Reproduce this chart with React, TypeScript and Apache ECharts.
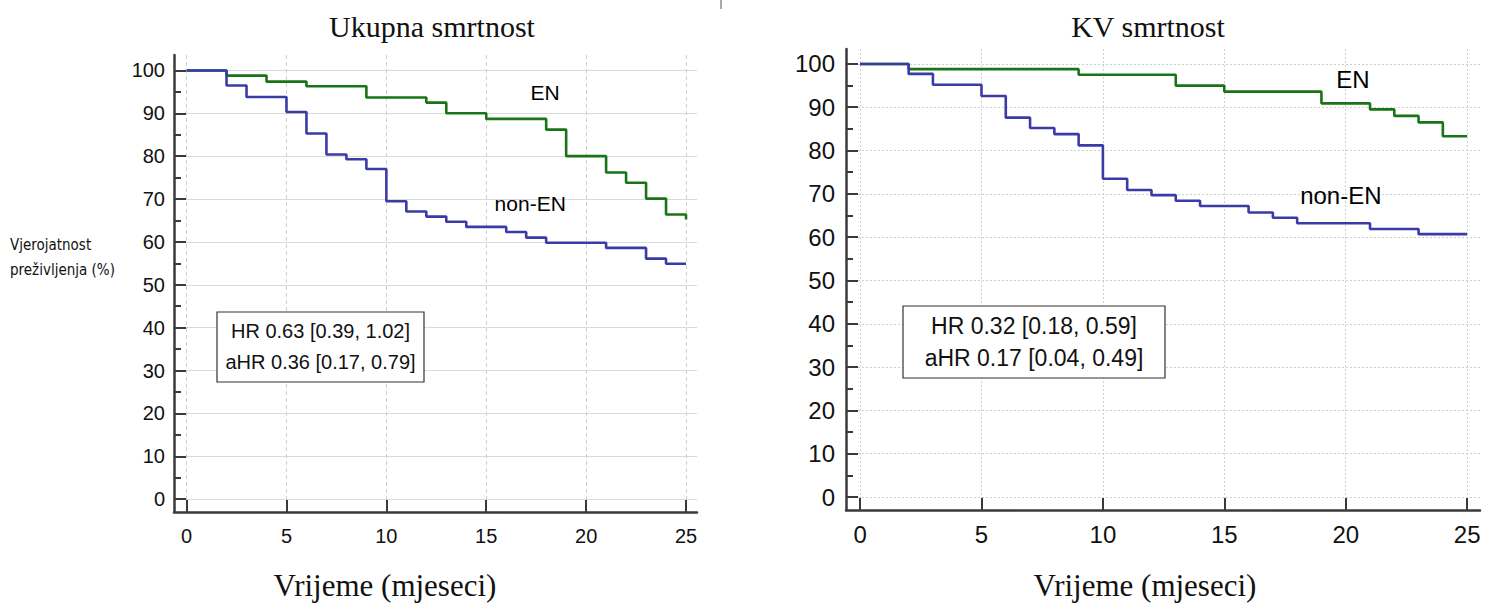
import React, { useEffect, useRef } from "react";
import * as echarts from "echarts";

// ---- tick values ----
const xTicks = [0, 5, 10, 15, 20, 25];
const yTicks = [0, 10, 20, 30, 40, 50, 60, 70, 80, 90, 100];
const yMinorTicks = [5, 15, 25, 35, 45, 55, 65, 75, 85, 95];

// ---- texts ----
const leftTitle = "Ukupna smrtnost";
const rightTitle = "KV smrtnost";
const xAxisTitle = "Vrijeme (mjeseci)";
const yAxisTitleLines = ["Vjerojatnost", "preživljenja (%)"];
const groupNames = ["EN", "non-EN"];
const leftStats = ["HR 0.63 [0.39, 1.02]", "aHR 0.36 [0.17, 0.79]"];
const rightStats = ["HR 0.32 [0.18, 0.59]", "aHR 0.17 [0.04, 0.49]"];

// ---- Ukupna smrtnost (all-cause) ----
const allEnTimes = [0, 2, 4, 6, 9, 12, 13, 15, 18, 19, 21, 22, 23, 24, 25];
const allEnSurv = [100, 98.8, 97.4, 96.3, 93.7, 92.5, 90.0, 88.7, 86.2, 80.0, 76.2, 73.8, 70.1, 66.4, 65.2];
const allNonEnTimes = [0, 2, 3, 5, 6, 7, 8, 9, 10, 11, 12, 13, 14, 16, 17, 18, 21, 23, 24, 25];
const allNonEnSurv = [100, 96.5, 93.8, 90.3, 85.3, 80.4, 79.3, 77.0, 69.5, 67.1, 65.9, 64.7, 63.5, 62.3, 61.0, 59.8, 58.6, 56.1, 54.9, 54.9];

// ---- KV smrtnost (cardiovascular) ----
const cvEnTimes = [0, 2, 9, 13, 15, 19, 21, 22, 23, 24, 25];
const cvEnSurv = [100, 98.8, 97.5, 95.0, 93.6, 90.9, 89.5, 88.0, 86.5, 83.3, 83.3];
const cvNonEnTimes = [0, 2, 3, 5, 6, 7, 8, 9, 10, 11, 12, 13, 14, 16, 17, 18, 21, 23, 25];
const cvNonEnSurv = [100, 97.7, 95.2, 92.6, 87.6, 85.2, 83.8, 81.2, 73.5, 70.9, 69.7, 68.4, 67.2, 65.7, 64.5, 63.2, 61.9, 60.7, 60.7];

// ---- group label anchors (data coordinates) ----
const leftEnLabelAt = [17.95, 94.9];
const leftNonEnLabelAt = [17.2, 69.0];
const rightEnLabelAt = [20.3, 96.5];
const rightNonEnLabelAt = [19.8, 69.6];

const GREEN = "#177417";
const BLUE = "#3b3ba8";
const AXIS = "#3a3a3a";
const SANS = "'Liberation Sans', Arial, sans-serif";
const SERIF = "'Liberation Serif', 'Times New Roman', serif";
const CONDENSED = "'DejaVu Sans Condensed', 'Liberation Sans Narrow', sans-serif";

const zip = (xs: number[], ys: number[]) => xs.map((x, i) => [x, ys[i]]);

function makeAxes(
  gridIndex: number,
  xr: [number, number],
  yr: [number, number],
  fontSize: number,
  labelMarginY: number,
  labelMarginX: number,
  hSplit: any,
  vSplit: any
) {
  const xAxis = {
    type: "value",
    gridIndex,
    min: xr[0],
    max: xr[1],
    position: "bottom",
    axisLine: { show: true, onZero: false, lineStyle: { color: AXIS, width: 2.5 } },
    axisTick: { show: true, inside: true, length: 12, customValues: xTicks, lineStyle: { color: AXIS, width: 2 } },
    axisLabel: { customValues: xTicks, fontSize, color: "#111", fontFamily: SANS, margin: labelMarginX },
    splitLine: { show: true, lineStyle: vSplit },
  };
  const yMajor = {
    type: "value",
    gridIndex,
    min: yr[0],
    max: yr[1],
    position: "left",
    axisLine: { show: true, onZero: false, lineStyle: { color: AXIS, width: 2.5 } },
    axisTick: { show: true, inside: true, length: 12, customValues: yTicks, lineStyle: { color: AXIS, width: 2 } },
    axisLabel: { customValues: yTicks, fontSize, color: "#111", fontFamily: SANS, margin: labelMarginY },
    splitLine: { show: true, lineStyle: hSplit },
  };
  const yMinor = {
    type: "value",
    gridIndex,
    min: yr[0],
    max: yr[1],
    position: "left",
    axisLine: { show: false, onZero: false },
    axisTick: { show: true, inside: true, length: 7, customValues: yMinorTicks, lineStyle: { color: AXIS, width: 2 } },
    axisLabel: { show: false },
    splitLine: { show: false },
  };
  return { xAxis, yAxes: [yMajor, yMinor] };
}

function kmSeries(name: string, data: number[][], color: string, xi: number, yi: number) {
  return {
    name,
    type: "line",
    step: "end",
    xAxisIndex: xi,
    yAxisIndex: yi,
    data,
    showSymbol: false,
    symbol: "none",
    lineStyle: { color, width: 2.6 },
    itemStyle: { color },
    z: 3,
  };
}

function labelSeries(xi: number, yi: number, pts: { name: string; value: number[] }[], fontSize: number) {
  return {
    type: "scatter",
    xAxisIndex: xi,
    yAxisIndex: yi,
    symbolSize: 1,
    itemStyle: { color: "rgba(255,255,255,0)" },
    data: pts,
    silent: true,
    label: {
      show: true,
      position: "inside",
      formatter: "{b}",
      fontSize,
      color: "#000",
      textBorderWidth: 0,
      opacity: 1,
      fontFamily: SANS,
    },
    z: 4,
  };
}

export default function App() {
  const ref = useRef<HTMLDivElement>(null);

  useEffect(() => {
    if (!ref.current) return;
    const chart = echarts.init(ref.current, undefined, { renderer: "svg" });

    const left = makeAxes(
      0,
      [-0.63, 25.55],
      [-3.0, 103.6],
      20,
      9,
      14,
      { color: "#dadada", width: 1, type: "solid" },
      { color: "#cfcfcf", width: 1, type: [4, 3] }
    );
    const right = makeAxes(
      1,
      [-0.58, 25.53],
      [-3.0, 103.45],
      24,
      11,
      12,
      { color: "#cfcfcf", width: 1, type: [2, 2] },
      { color: "#cfcfcf", width: 1, type: [2, 2] }
    );

    const option: any = {
      animation: false,
      backgroundColor: "#ffffff",
      grid: [
        { left: 174, top: 55, width: 523, height: 457, containLabel: false },
        { left: 846, top: 49, width: 634, height: 461, containLabel: false },
      ],
      xAxis: [left.xAxis, right.xAxis],
      yAxis: [...left.yAxes, ...right.yAxes],
      series: [
        kmSeries("EN", zip(allEnTimes, allEnSurv), GREEN, 0, 0),
        kmSeries("non-EN", zip(allNonEnTimes, allNonEnSurv), BLUE, 0, 0),
        kmSeries("EN", zip(cvEnTimes, cvEnSurv), GREEN, 1, 2),
        kmSeries("non-EN", zip(cvNonEnTimes, cvNonEnSurv), BLUE, 1, 2),
        labelSeries(0, 0, [
          { name: groupNames[0], value: leftEnLabelAt },
          { name: groupNames[1], value: leftNonEnLabelAt },
        ], 21),
        labelSeries(1, 2, [
          { name: groupNames[0], value: rightEnLabelAt },
          { name: groupNames[1], value: rightNonEnLabelAt },
        ], 24),
      ],
      graphic: [
        // stray tick mark at the top
        { type: "line", shape: { x1: 721, y1: 0, x2: 721, y2: 9 }, style: { stroke: "#555", lineWidth: 1 } },
        // titles
        { type: "text", x: 432, y: 26, style: { text: leftTitle, font: `30px ${SERIF}`, fill: "#111", align: "center", verticalAlign: "middle" } },
        { type: "text", x: 1148, y: 26, style: { text: rightTitle, font: `30px ${SERIF}`, fill: "#111", align: "center", verticalAlign: "middle" } },
        // x axis names
        { type: "text", x: 385, y: 585, style: { text: xAxisTitle, font: `31px ${SERIF}`, fill: "#111", align: "center", verticalAlign: "middle" } },
        { type: "text", x: 1145, y: 585, style: { text: xAxisTitle, font: `31px ${SERIF}`, fill: "#111", align: "center", verticalAlign: "middle" } },
        // y axis name (left only)
        { type: "text", x: 10, y: 245, style: { text: yAxisTitleLines[0], font: `15px ${CONDENSED}`, fill: "#111", align: "left", verticalAlign: "middle" } },
        { type: "text", x: 10, y: 270, style: { text: yAxisTitleLines[1], font: `15px ${CONDENSED}`, fill: "#111", align: "left", verticalAlign: "middle" } },
        // HR boxes
        { type: "rect", shape: { x: 217, y: 312, width: 207, height: 70 }, style: { fill: "#fff", stroke: "#333", lineWidth: 1.2 }, z: 10 },
        { type: "text", x: 320.5, y: 331, z: 11, style: { text: leftStats[0], font: `20px ${SANS}`, fill: "#111", align: "center", verticalAlign: "middle" } },
        { type: "text", x: 320.5, y: 362, z: 11, style: { text: leftStats[1], font: `20px ${SANS}`, fill: "#111", align: "center", verticalAlign: "middle" } },
        { type: "rect", shape: { x: 903, y: 306, width: 262, height: 72 }, style: { fill: "#fff", stroke: "#333", lineWidth: 1.2 }, z: 10 },
        { type: "text", x: 1034, y: 326, z: 11, style: { text: rightStats[0], font: `23px ${SANS}`, fill: "#111", align: "center", verticalAlign: "middle" } },
        { type: "text", x: 1034, y: 358, z: 11, style: { text: rightStats[1], font: `23px ${SANS}`, fill: "#111", align: "center", verticalAlign: "middle" } },
      ],
    };

    chart.setOption(option);
    return () => chart.dispose();
  }, []);

  return (
    <div
      ref={ref}
      style={{ position: "fixed", left: 0, top: 0, width: 1492, height: 603, background: "#fff" }}
    />
  );
}
